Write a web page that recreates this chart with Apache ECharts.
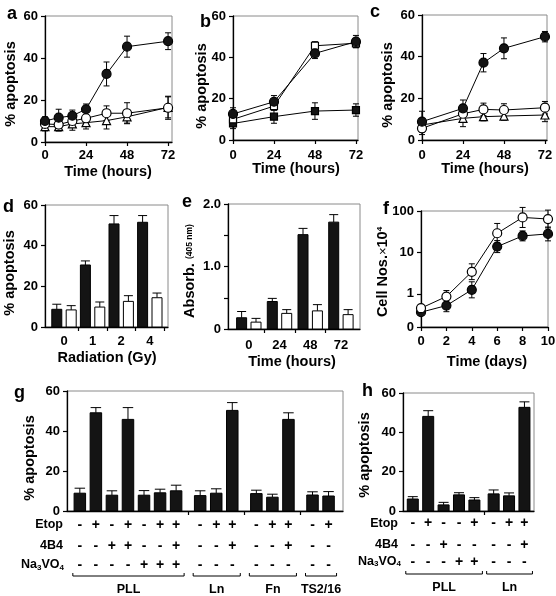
<!DOCTYPE html>
<html><head><meta charset="utf-8">
<script src="https://cdn.jsdelivr.net/npm/echarts@6/dist/echarts.min.js"></script>
<style>html,body{margin:0;padding:0;background:#fff}#c{width:556px;height:596px}</style>
</head><body><div id="c"></div>
<script>
// ---------------- DATA ----------------
// panel a
const aTimes = [0, 8, 16, 24, 36, 48, 72];
const aFilled = [10, 11.6, 12.5, 15.6, 32.4, 45.4, 48];
const aFilledErr = [2, 4, 2.7, 2.5, 5.7, 5, 4];
const aOpen = [8.6, 8.3, 10, 11.3, 13.7, 13.7, 16.3];
const aOpenErr = [3, 3, 3, 3, 3.5, 5, 5.5];
const aTri = [7.3, 7.3, 8.6, 9.2, 10.2, 12, 16.5];
const aTriErr = [2, 2, 3, 3, 4, 3, 5];
// panel b
const bTimes = [0, 24, 48, 72];
const bFilledCircle = [12.6, 18.5, 41.9, 47.6];
const bFilledCircleErr = [3, 3, 2.5, 3];
const bOpenSquare = [10, 16.4, 45.6, 46.8];
const bOpenSquareErr = [2, 2, 2, 2];
const bFilledSquare = [8, 11.3, 14, 14.5];
const bFilledSquareErr = [2.5, 3.2, 4, 3];
// panel c
const cTimes = [0, 24, 36, 48, 72];
const cFilled = [8.8, 15.2, 37.1, 44, 49.6];
const cFilledErr = [5, 4, 4.4, 5, 2.5];
const cOpen = [5.6, 12.6, 14.7, 14.4, 15.5];
const cOpenErr = [3, 3, 3, 3, 3];
const cTri = [7.2, 10.4, 11.2, 11.5, 12];
const cTriErr = [3, 4, 2, 2, 3.2];
// panel d
const dCats = ['0', '1', '2', '4'];
const dBlack = [8.7, 30.5, 50.7, 51.5];
const dBlackErr = [2.5, 2, 4.1, 3.3];
const dWhite = [8.4, 9.8, 12.6, 14.4];
const dWhiteErr = [2.1, 2.5, 2.8, 2.3];
// panel e
const eCats = ['0', '24', '48', '72'];
const eBlack = [0.18, 0.44, 1.51, 1.71];
const eBlackErr = [0.10, 0.05, 0.10, 0.12];
const eWhite = [0.11, 0.25, 0.29, 0.23];
const eWhiteErr = [0.06, 0.06, 0.10, 0.08];
// panel f
const fDays = [0, 2, 4, 6, 8, 10];
const fOpen = [0.45, 0.86, 3.4, 29, 70, 64];
const fOpenLow = [0.38, 0.62, 2.2, 16.7, 40, 39];
const fOpenHigh = [0.53, 1.2, 5.3, 50, 122, 105];
const fFilled = [0.36, 0.52, 1.25, 13.8, 25, 28];
const fFilledLow = [0.30, 0.37, 0.8, 9.9, 19, 19];
const fFilledHigh = [0.42, 0.73, 1.95, 19.3, 33, 41];
// panel g
const gGroups = ['PLL', 'Ln', 'Fn', 'TS2/16'];
const gGroupSizes = [7, 3, 3, 2];
const gValues = [8.9, 49.1, 7.9, 45.8, 7.9, 9.1, 10.1, 7.7, 8.9, 50.3, 8.7, 6.9, 45.8, 8.0, 7.5];
const gErr = [2.5, 2.6, 2.2, 5.9, 2.3, 1.8, 2.8, 2.4, 2.2, 3.9, 1.7, 1.5, 3.3, 1.6, 2.2];
const gEtop = ['-','+','-','+','-','+','+', '-','+','+', '-','+','+', '-','+'];
const g4B4  = ['-','-','+','+','-','-','+', '-','-','+', '-','-','+', '-','-'];
const gNa   = ['-','-','-','-','+','+','+', '-','-','-', '-','-','-', '-','-'];
// panel h
const hGroups = ['PLL', 'Ln'];
const hGroupSizes = [5, 3];
const hValues = [6.1, 48.1, 3.1, 8.2, 5.6, 8.7, 7.7, 52.7];
const hErr = [1.2, 2.9, 1.3, 1.1, 1.2, 2.0, 1.5, 2.8];
const hEtop = ['-','+','-','-','+', '-','+','+'];
const h4B4  = ['-','-','+','-','-', '-','-','+'];
const hNa   = ['-','-','-','+','+', '-','-','-'];
const rowNames = ['Etop', '4B4', 'Na3VO4'];

// ---------------- HELPERS ----------------
const FONT = '"Liberation Sans", Arial, Helvetica, sans-serif';
const F = (s, w) => (w || 'bold') + ' ' + s + 'px ' + FONT;
const BLACK = '#141414';

function positions(sizes, gap) {
  const out = []; let p = 0;
  sizes.forEach((n, gi) => { for (let k = 0; k < n; k++) { out.push(p + gi * gap); p++; } });
  return out;
}
function groupRanges(sizes, pos) {
  const out = []; let i = 0;
  sizes.forEach(n => { out.push([pos[i], pos[i + n - 1]]); i += n; });
  return out;
}
function boundaries(sizes, pos) {
  const out = []; let i = 0;
  sizes.forEach((n, gi) => { i += n; if (gi < sizes.length - 1) out.push((pos[i - 1] + pos[i]) / 2); });
  return out;
}
function ln(x1, y1, x2, y2, w) {
  return { type: 'line', shape: { x1, y1, x2, y2 }, style: { stroke: '#000', lineWidth: w || 1 } };
}
function txt(x, y, text, font, align, valign) {
  return { type: 'text', x, y, style: { text, font, fill: '#000', align: align || 'center', textAlign: align || 'center', verticalAlign: valign || 'middle', textVerticalAlign: valign || 'middle' } };
}

const gPos = positions(gGroupSizes, 0.5);
const hPos = positions(hGroupSizes, 0.25);

function lineSer(i, xs, ys, symbol, filled, size) {
  return {
    type: 'line', xAxisIndex: i, yAxisIndex: i, z: 3, animation: false, silent: true,
    data: xs.map((x, k) => [x, ys[k]]), symbol, symbolSize: size, showAllSymbol: true,
    lineStyle: { color: '#000', width: 1 },
    itemStyle: { color: filled ? BLACK : '#fff', borderColor: '#000', borderWidth: 1.2, opacity: 1 },
    emphasis: { disabled: true }
  };
}
function errSer(i, xs, lo, hi) {
  return {
    type: 'custom', xAxisIndex: i, yAxisIndex: i, z: 2, silent: true, animation: false,
    data: xs.map((x, k) => [x, lo[k], hi[k]]),
    renderItem(params, api) {
      const x = api.value(0);
      const p1 = api.coord([x, api.value(1)]), p2 = api.coord([x, api.value(2)]);
      const c = 3;
      return { type: 'group', children: [ln(p1[0], p1[1], p2[0], p2[1]), ln(p1[0] - c, p1[1], p1[0] + c, p1[1]), ln(p2[0] - c, p2[1], p2[0] + c, p2[1])] };
    }
  };
}
function symErr(i, xs, ys, es) {
  return errSer(i, xs, ys.map((v, k) => v - es[k]), ys.map((v, k) => v + es[k]));
}
function barSer(i, xs, vals, errs, fill, off, w, rows, rowOff) {
  return {
    type: 'custom', xAxisIndex: i, yAxisIndex: i, z: 3, silent: true, animation: false,
    data: xs.map((x, k) => [x, vals[k], errs[k], k]),
    renderItem(params, api) {
      const x = api.value(0), v = api.value(1), e = api.value(2), k = api.value(3);
      const p0 = api.coord([x, 0]), p1 = api.coord([x, v]), p2 = api.coord([x, v + e]);
      const cx = p0[0] + off, c = (w - 1) / 2;
      const ch = [
        ln(cx, p1[1], cx, p2[1]),
        ln(cx - c, p2[1], cx + c, p2[1]),
        { type: 'rect', shape: { x: cx - w / 2, y: p1[1], width: w, height: p0[1] - p1[1] }, style: { fill, stroke: '#000', lineWidth: 1 } }
      ];
      if (rows) rows.forEach((r, ri) => ch.push(txt(cx, p0[1] + rowOff[ri], r[k], F(14))));
      return { type: 'group', children: ch };
    }
  };
}
function bracketSer(i, ranges, names, yOff, labOff) {
  return {
    type: 'custom', xAxisIndex: i, yAxisIndex: i, z: 3, silent: true, animation: false,
    data: ranges.map((r, k) => [r[0], r[1], k]),
    renderItem(params, api) {
      const a = api.coord([api.value(0), 0]), b = api.coord([api.value(1), 0]);
      const y = a[1] + yOff, x1 = a[0] - 7, x2 = b[0] + 8;
      return { type: 'group', children: [
        { type: 'polyline', shape: { points: [[x1, y - 3], [x1, y], [x2, y], [x2, y - 3]] }, style: { stroke: '#000', fill: null, lineWidth: 1 } },
        txt((x1 + x2) / 2, a[1] + labOff, names[api.value(2)], F(12.5))
      ] };
    }
  };
}

// ---------------- AXES ----------------
const axLine = { show: true, onZero: false, lineStyle: { color: '#000', width: 1.3 } };
const axTick = { show: true, inside: false, length: 4, lineStyle: { color: '#000', width: 1.2 } };
const lab = (m, extra) => Object.assign({ show: true, color: '#000', fontSize: 13, fontWeight: 'bold', fontFamily: FONT, margin: m }, extra || {});

const grids = [
  { left: 45, top: 16, width: 127, height: 126 },
  { left: 233, top: 16, width: 125, height: 124 },
  { left: 422, top: 15, width: 125, height: 125 },
  { left: 45, top: 205, width: 123, height: 122 },
  { left: 228, top: 204, width: 132, height: 125 },
  { left: 421, top: 211, width: 127, height: 116 },
  { left: 67, top: 391, width: 276, height: 120 },
  { left: 403, top: 393, width: 131, height: 118 }
].map(g => Object.assign(g, { show: true, borderColor: '#8a8a8a', borderWidth: 1, containLabel: false, outerBoundsMode: 'none' }));

const hourTicks = [0, 24, 48, 72];
function xHours(i, max, m) {
  return { gridIndex: i, type: 'value', min: 0, max, interval: 24, axisLine: axLine,
    axisTick: Object.assign({}, axTick, { customValues: hourTicks }),
    axisLabel: lab(m, { customValues: hourTicks }), splitLine: { show: false } };
}
function xCat(i, min, max, cats, ticks, m) {
  return { gridIndex: i, type: 'value', min, max, axisLine: axLine,
    axisTick: Object.assign({}, axTick, { customValues: ticks }),
    axisLabel: lab(m, { customValues: cats.map((c, k) => k), formatter: v => cats[Math.round(v)] }),
    splitLine: { show: false } };
}
function xBars(i, min, max, ticks) {
  return { gridIndex: i, type: 'value', min, max, axisLine: axLine,
    axisTick: Object.assign({}, axTick, { customValues: ticks }),
    axisLabel: { show: false }, splitLine: { show: false } };
}
function yPct(i) {
  return { gridIndex: i, type: 'value', min: 0, max: 60, interval: 20, axisLine: axLine, axisTick: axTick,
    axisLabel: lab(7), splitLine: { show: false } };
}

const xAxis = [
  xHours(0, 74.3, 6.5),
  xHours(1, 73.2, 8.5),
  xHours(2, 73.2, 8.5),
  xCat(3, -0.664, 3.636, dCats, [0.5, 1.5, 2.5, 3.5], 8),
  xCat(4, -0.678, 3.622, eCats, [0.5, 1.5, 2.5], 10),
  { gridIndex: 5, type: 'value', min: 0, max: 10, interval: 2, axisLine: axLine, axisTick: axTick, axisLabel: lab(8), splitLine: { show: false } },
  xBars(6, -0.8, 16.4, boundaries(gGroupSizes, gPos)),
  xBars(7, -0.636, 7.87, boundaries(hGroupSizes, hPos))
];
const yAxis = [
  yPct(0), yPct(1), yPct(2), yPct(3),
  { gridIndex: 4, type: 'value', min: 0, max: 2, interval: 0.5, axisLine: axLine, axisTick: axTick,
    axisLabel: lab(7, { formatter: v => v === 0 ? '0' : (Math.abs(v - Math.round(v)) < 1e-6 ? v.toFixed(1) : '') }), splitLine: { show: false } },
  { gridIndex: 5, type: 'log', logBase: 10, min: 0.158, max: 100, axisLine: axLine, axisTick: axTick,
    axisLabel: lab(7, { formatter: v => v < 0.5 ? '0' : String(Math.round(v)) }), splitLine: { show: false }, minorTick: { show: false } },
  yPct(6), yPct(7)
];

// ---------------- SERIES ----------------
const series = [
  symErr(0, aTimes, aTri, aTriErr), symErr(0, aTimes, aOpen, aOpenErr), symErr(0, aTimes, aFilled, aFilledErr),
  lineSer(0, aTimes, aTri, 'triangle', false, 8), lineSer(0, aTimes, aOpen, 'circle', false, 9), lineSer(0, aTimes, aFilled, 'circle', true, 9),

  symErr(1, bTimes, bFilledSquare, bFilledSquareErr), symErr(1, bTimes, bOpenSquare, bOpenSquareErr), symErr(1, bTimes, bFilledCircle, bFilledCircleErr),
  lineSer(1, bTimes, bFilledSquare, 'rect', true, 7), lineSer(1, bTimes, bOpenSquare, 'rect', false, 7), lineSer(1, bTimes, bFilledCircle, 'circle', true, 9),

  symErr(2, cTimes, cTri, cTriErr), symErr(2, cTimes, cOpen, cOpenErr), symErr(2, cTimes, cFilled, cFilledErr),
  lineSer(2, cTimes, cTri, 'triangle', false, 8), lineSer(2, cTimes, cOpen, 'circle', false, 9), lineSer(2, cTimes, cFilled, 'circle', true, 9),

  barSer(3, dCats.map((c, k) => k), dBlack, dBlackErr, BLACK, -7.2, 10),
  barSer(3, dCats.map((c, k) => k), dWhite, dWhiteErr, '#fff', 7.2, 10),
  barSer(4, eCats.map((c, k) => k), eBlack, eBlackErr, BLACK, -7.2, 10),
  barSer(4, eCats.map((c, k) => k), eWhite, eWhiteErr, '#fff', 7.2, 10),

  errSer(5, fDays, fFilledLow, fFilledHigh), errSer(5, fDays, fOpenLow, fOpenHigh),
  lineSer(5, fDays, fFilled, 'circle', true, 9), lineSer(5, fDays, fOpen, 'circle', false, 9),

  barSer(6, gPos, gValues, gErr, BLACK, 0, 11.5, [gEtop, g4B4, gNa], [14, 34.7, 54]),
  bracketSer(6, groupRanges(gGroupSizes, gPos), gGroups, 65, 79),
  barSer(7, hPos, hValues, hErr, BLACK, 0, 11, [hEtop, h4B4, hNa], [12.3, 34, 50.7]),
  bracketSer(7, groupRanges(hGroupSizes, hPos), hGroups, 63, 77)
];

// ---------------- TEXT ----------------
const T = 14.5;
function vtxt(x, y, text, rich) {
  const o = txt(x, y, text, F(T));
  o.rotation = Math.PI / 2;
  if (rich) o.style.rich = rich;
  return o;
}
const naRich = { n: { font: F(12.5), verticalAlign: 'bottom' }, s: { font: F(8), verticalAlign: 'bottom' } };
function naLabel(x, y) {
  const o = txt(x, y, '{n|Na}{s|3}{n|VO}{s|4}', F(12.5), 'right');
  o.style.rich = naRich;
  return o;
}
const graphic = [
  txt(7, 14, 'a', F(18), 'left'), txt(200, 22, 'b', F(18), 'left'), txt(370, 12, 'c', F(18), 'left'),
  txt(3, 207, 'd', F(18), 'left'), txt(182, 202, 'e', F(18), 'left'), txt(383, 209, 'f', F(18), 'left'),
  txt(14, 393, 'g', F(18), 'left'), txt(362, 391, 'h', F(18), 'left'),

  txt(108, 172, 'Time (hours)', F(T)), txt(296, 169, 'Time (hours)', F(T)), txt(485, 169, 'Time (hours)', F(T)),
  txt(107, 358, 'Radiation (Gy)', F(T)), txt(292, 362, 'Time (hours)', F(T)), txt(487, 362, 'Time (days)', F(T)),

  vtxt(11, 84, '% apoptosis'), vtxt(202, 86, '% apoptosis'), vtxt(388, 85, '% apoptosis'),
  vtxt(10, 273, '% apoptosis'), vtxt(30, 458, '% apoptosis'), vtxt(365, 455, '% apoptosis'),
  vtxt(190, 271, '{a|Absorb.} {b|(405 nm)}', { a: { font: F(T) }, b: { font: F(8.5) } }),
  vtxt(383, 272, '{a|Cell Nos.}{x|\u00d7}{a|10}{s|4}', { a: { font: F(T) }, x: { font: F(13, 'normal') }, s: { font: F(8), verticalAlign: 'top' } }),

  txt(63, 525, rowNames[0], F(12.5), 'right'), txt(63, 545.7, rowNames[1], F(12.5), 'right'), naLabel(64, 565),
  txt(398, 523.3, rowNames[0], F(12.5), 'right'), txt(398, 545, rowNames[1], F(12.5), 'right'), naLabel(401, 561.7)
];

const chart = echarts.init(document.getElementById('c'), null, { renderer: 'canvas' });
chart.setOption({ animation: false, backgroundColor: '#fff', grid: grids, xAxis, yAxis, series, graphic });
</script></body></html>
